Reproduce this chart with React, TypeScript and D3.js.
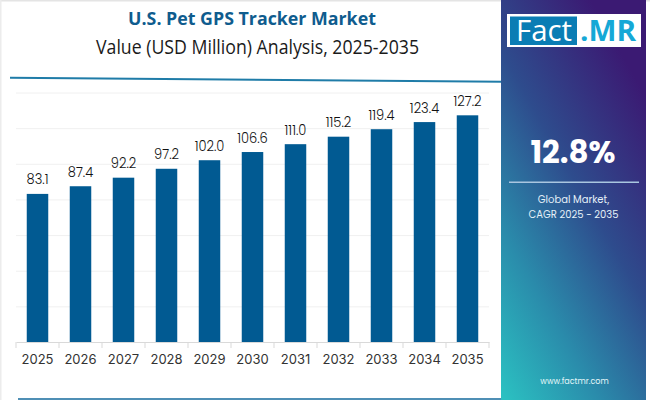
import { useEffect, useRef } from "react";
import * as d3 from "d3";

const years = ["2025", "2026", "2027", "2028", "2029", "2030", "2031", "2032", "2033", "2034", "2035"];
const values = [83.1, 87.4, 92.2, 97.2, 102.0, 106.6, 111.0, 115.2, 119.4, 123.4, 127.2];
const gridTicks = [20, 40, 60, 80, 100, 120, 140];

const width = 650;
const height = 400;
const barColor = "#015a92";
const sans = "Poppins, Inter, 'Noto Sans', sans-serif";

export default function App() {
  const svgRef = useRef<SVGSVGElement>(null);

  useEffect(() => {
    if (!svgRef.current) return;

    const svg = d3.select(svgRef.current);
    svg.selectAll("*").remove();

    const x = d3.scaleBand<string>().domain(years).range([16, 489]).paddingInner(0.5).paddingOuter(0.25);
    const y = d3.scaleLinear().domain([0, 140]).range([342, 92.5]);

    // Panel gradient runs from dark purple at the top to teal at the bottom left
    const defs = svg.append("defs");
    const grad = defs
      .append("linearGradient")
      .attr("id", "panel")
      .attr("x1", "0")
      .attr("y1", "0.98")
      .attr("x2", "0.62")
      .attr("y2", "0");
    const stops: [string, string][] = [
      ["0%", "#2bc0c1"],
      ["30%", "#2a8bab"],
      ["62%", "#2e4c8d"],
      ["100%", "#3b1a73"],
    ];
    stops.forEach(([offset, color]) => {
      grad.append("stop").attr("offset", offset).attr("stop-color", color);
    });

    svg.append("rect").attr("width", width).attr("height", height).attr("fill", "#ffffff");

    // Faint frame and bottom strip
    svg.append("rect").attr("x", 0).attr("y", 0).attr("width", 650).attr("height", 1.5).attr("fill", "#e4e4e4");
    svg.append("rect").attr("x", 0).attr("y", 0).attr("width", 1.5).attr("height", 400).attr("fill", "#ececec");
    svg.append("rect").attr("x", 18).attr("y", 398).attr("width", 484).attr("height", 2).attr("fill", "#4f8fb5");

    // Grid
    svg
      .append("g")
      .attr("transform", "translate(16,0)")
      .call(d3.axisLeft(y).tickValues(gridTicks).tickSize(-473).tickFormat(() => ""))
      .call((g) => g.select(".domain").remove())
      .call((g) => g.selectAll("line").attr("stroke", "#f0f0f0").attr("stroke-width", 1));

    // Bars
    svg
      .append("g")
      .selectAll("rect")
      .data(values)
      .join("rect")
      .attr("x", (_, i) => x(years[i])!)
      .attr("y", (d) => y(d))
      .attr("width", x.bandwidth())
      .attr("height", (d) => y(0) - y(d))
      .attr("fill", barColor);

    // Value labels, squeezed a little because the source digits are tall and narrow
    svg
      .append("g")
      .selectAll<SVGTextElement, number>("text")
      .data(values)
      .join("text")
      .attr("x", (_, i) => x(years[i])! + x.bandwidth() / 2)
      .attr("y", (d) => y(d) - 9.5)
      .attr("text-anchor", "middle")
      .attr("font-family", sans)
      .attr("font-weight", 300)
      .attr("font-size", 14.5)
      .attr("fill", "#111111")
      .text((d) => d.toFixed(1))
      .each(function () {
        const len = this.getComputedTextLength();
        d3.select(this).attr("textLength", len * 0.9).attr("lengthAdjust", "spacingAndGlyphs");
      });

    // X axis
    const xAxis = svg
      .append("g")
      .attr("transform", "translate(0,342)")
      .call(d3.axisBottom(x).tickSize(0).tickPadding(13));
    xAxis.select(".domain").attr("stroke", "#d9d9d9");
    xAxis
      .selectAll("text")
      .attr("font-family", "Inter, sans-serif")
      .attr("font-size", 13)
      .attr("fill", "#333333");
    xAxis
      .selectAll("line.sep")
      .data(d3.range(years.length + 1))
      .join("line")
      .attr("class", "sep")
      .attr("x1", (i) => 16 + i * x.step())
      .attr("x2", (i) => 16 + i * x.step())
      .attr("y1", 0)
      .attr("y2", 6)
      .attr("stroke", "#d9d9d9");

    // Titles
    svg
      .append("text")
      .attr("x", 252)
      .attr("y", 25)
      .attr("text-anchor", "middle")
      .attr("font-family", "'Open Sans', sans-serif")
      .attr("font-weight", 700)
      .attr("font-size", 17.8)
      .attr("fill", "#0f5c8e")
      .text("U.S. Pet GPS Tracker Market");
    svg
      .append("text")
      .attr("x", 96)
      .attr("y", 54)
      .attr("textLength", 323)
      .attr("lengthAdjust", "spacingAndGlyphs")
      .attr("font-family", "'Open Sans', sans-serif")
      .attr("font-size", 20.5)
      .attr("fill", "#1a1a1a")
      .text("Value (USD Million) Analysis, 2025-2035");

    // Header rule, slightly tilted in the source image
    svg
      .append("line")
      .attr("x1", 10)
      .attr("y1", 77.7)
      .attr("x2", 503)
      .attr("y2", 81.7)
      .attr("stroke", "#1f7ca8")
      .attr("stroke-width", 2);

    // Right panel
    svg.append("rect").attr("x", 501).attr("y", 0).attr("width", 145).attr("height", 400).attr("fill", "url(#panel)");

    // Logo
    svg.append("rect").attr("x", 507).attr("y", 14).attr("width", 134).attr("height", 33).attr("fill", "#ffffff");
    svg.append("rect").attr("x", 510).attr("y", 16.5).attr("width", 67).attr("height", 28.5).attr("fill", "#0a7db4");
    svg
      .append("text")
      .attr("x", 516)
      .attr("y", 41)
      .attr("textLength", 56)
      .attr("lengthAdjust", "spacingAndGlyphs")
      .attr("font-family", "'Open Sans', sans-serif")
      .attr("font-size", 29)
      .attr("fill", "#ffffff")
      .text("Fact");
    svg
      .append("text")
      .attr("x", 580)
      .attr("y", 41)
      .attr("textLength", 56)
      .attr("lengthAdjust", "spacingAndGlyphs")
      .attr("font-family", "'Open Sans', sans-serif")
      .attr("font-weight", 700)
      .attr("font-size", 28)
      .attr("fill", "#15a8d6")
      .text(".MR");

    // CAGR block
    svg
      .append("text")
      .attr("x", 573)
      .attr("y", 163)
      .attr("text-anchor", "middle")
      .attr("font-family", sans)
      .attr("font-weight", 700)
      .attr("font-size", 31)
      .attr("fill", "#ffffff")
      .text("12.8%");
    svg.append("rect").attr("x", 509).attr("y", 181.5).attr("width", 130).attr("height", 1.5).attr("fill", "#a9c6e0");
    [
      { t: "Global Market,", y: 203 },
      { t: "CAGR 2025 - 2035", y: 218 },
    ].forEach(({ t, y: ty }) => {
      svg
        .append("text")
        .attr("x", 573.5)
        .attr("y", ty)
        .attr("text-anchor", "middle")
        .attr("font-family", sans)
        .attr("font-size", 10)
        .attr("fill", "#e4f0f8")
        .text(t);
    });
    svg
      .append("text")
      .attr("x", 574.5)
      .attr("y", 384)
      .attr("text-anchor", "middle")
      .attr("font-family", sans)
      .attr("font-size", 8)
      .attr("fill", "#e4f6f8")
      .text("www.factmr.com");
  }, []);

  return (
    <svg
      ref={svgRef}
      width={width}
      height={height}
      viewBox={`0 0 ${width} ${height}`}
      style={{ position: "fixed", left: 0, top: 0, display: "block" }}
    />
  );
}
